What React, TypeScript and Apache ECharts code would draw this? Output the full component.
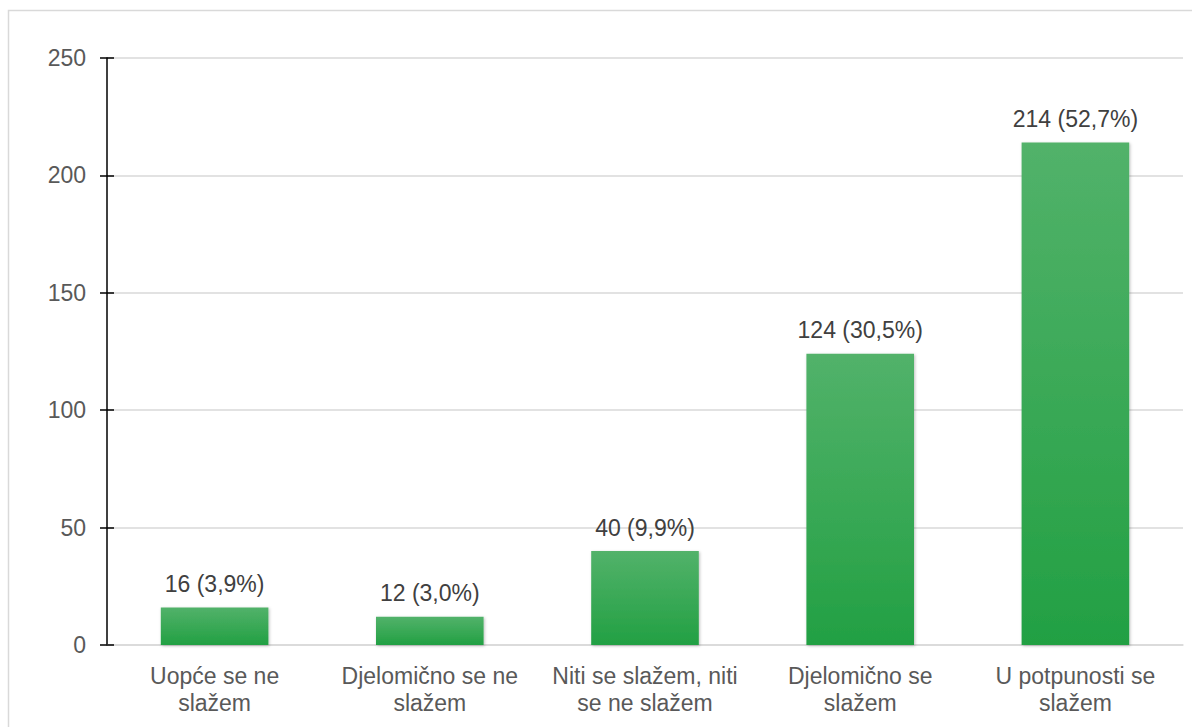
import React, { useEffect, useRef } from "react";
import * as echarts from "echarts";

const categories = [
  "Uopće se ne\nslažem",
  "Djelomično se ne\nslažem",
  "Niti se slažem, niti\nse ne slažem",
  "Djelomično se\nslažem",
  "U potpunosti se\nslažem",
];
const counts = [16, 12, 40, 124, 214];
const percents = ["3,9%", "3,0%", "9,9%", "30,5%", "52,7%"];
const yMin = 0;
const yMax = 250;
const yInterval = 50;

export default function App() {
  const ref = useRef<HTMLDivElement>(null);
  useEffect(() => {
    if (!ref.current) return;
    const chart = echarts.init(ref.current, undefined, { renderer: "svg" });
    const font = "Liberation Sans, Arial, sans-serif";
    chart.setOption({
      animation: false,
      backgroundColor: "#ffffff",
      graphic: [
        {
          type: "rect",
          shape: { x: 8.5, y: 10.5, width: 1300, height: 900 },
          style: { fill: "none", stroke: "#d9d9d9", lineWidth: 1.5 },
          silent: true,
          z: 0,
        },
      ],
      grid: { left: 107, right: 9, top: 58, bottom: 82, containLabel: false },
      xAxis: {
        type: "category",
        data: categories,
        axisLine: { show: true, lineStyle: { color: "#d9d9d9", width: 1.5 } },
        axisTick: { show: false },
        axisLabel: {
          color: "#595959",
          fontSize: 23,
          fontFamily: font,
          lineHeight: 27,
          margin: 17,
          interval: 0,
        },
      },
      yAxis: [
        {
          type: "value",
          min: yMin,
          max: yMax,
          interval: yInterval,
          axisLine: { show: true, lineStyle: { color: "#000000", width: 1.5 } },
          axisTick: { show: true, length: 7, lineStyle: { color: "#000000", width: 1.5 } },
          axisLabel: { color: "#595959", fontSize: 23, fontFamily: font, margin: 21 },
          splitLine: { show: true, lineStyle: { color: "#d9d9d9", width: 1.5 } },
        },
        {
          type: "value",
          position: "left",
          min: yMin,
          max: yMax,
          interval: yInterval,
          axisLine: { show: false },
          axisTick: { show: true, inside: true, length: 7, lineStyle: { color: "#000000", width: 1.5 } },
          axisLabel: { show: false },
          splitLine: { show: false },
        },
      ],
      series: [
        {
          type: "bar",
          data: counts,
          barWidth: "50%",
          itemStyle: {
            color: new echarts.graphic.LinearGradient(0, 0, 0, 1, [
              { offset: 0, color: "#52b26a" },
              { offset: 1, color: "#22a043" },
            ]),
            shadowColor: "rgba(0,0,0,0.25)",
            shadowBlur: 3,
            shadowOffsetX: 1,
            shadowOffsetY: 1,
          },
          label: {
            show: true,
            position: "top",
            distance: 12,
            color: "#404040",
            fontSize: 23,
            fontFamily: font,
            formatter: (p: any) => `${counts[p.dataIndex]} (${percents[p.dataIndex]})`,
          },
        },
      ],
    });
    return () => chart.dispose();
  }, []);
  return (
    <div
      ref={ref}
      style={{ position: "fixed", left: 0, top: 0, width: 1192, height: 727 }}
    />
  );
}
